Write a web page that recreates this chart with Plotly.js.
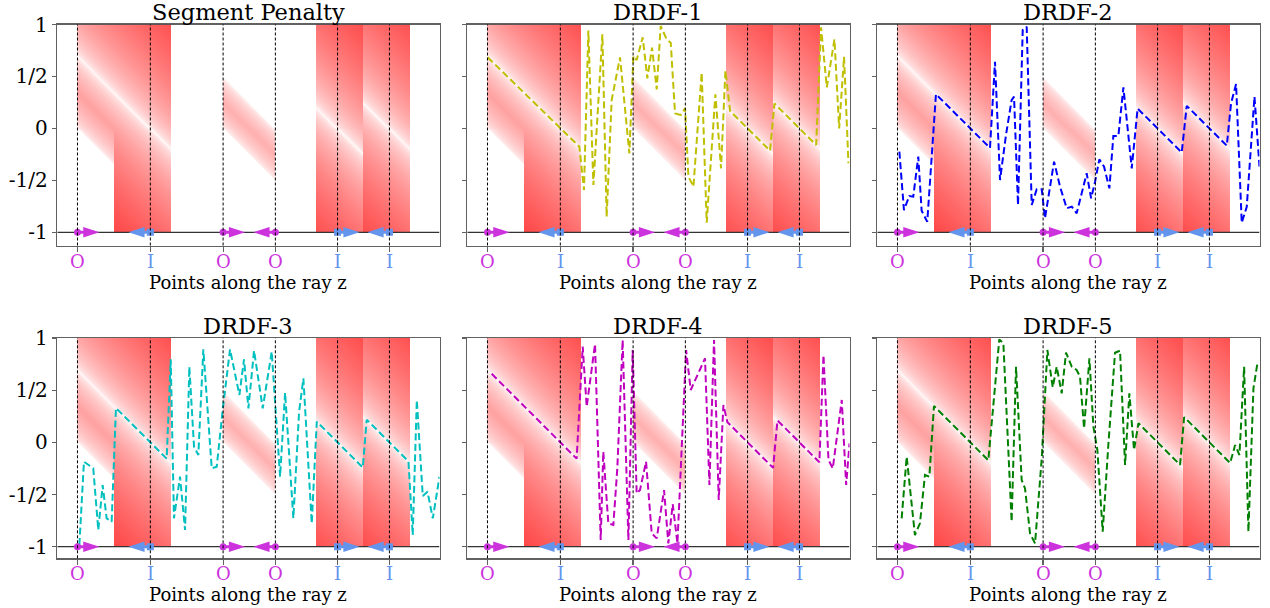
<!DOCTYPE html>
<html><head><meta charset="utf-8">
<script src="https://cdn.plot.ly/plotly-3.0.1.min.js"></script>
<style>body{margin:0;background:#fff}#chart{width:1270px;height:608px}</style>
</head><body><div id="chart"></div><script>
// ---------------- data ----------------
const panelTitles = ['Segment Penalty', 'DRDF-1', 'DRDF-2', 'DRDF-3', 'DRDF-4', 'DRDF-5'];
const xAxisTitle = 'Points along the ray z';
const rayLength = 3.656;                       // extent of the ray shown
const interX = [0.193, 0.890, 1.586, 2.086, 2.681, 3.177];   // intersections
const interType = ['O', 'I', 'O', 'O', 'I', 'I'];
const arrowDir = [1, -1, 1, -1, 1, -1];
const yTickVals = [1, 0.5, 0, -0.5, -1];
const yTickText = ['1', '1/2', '0', '-1/2', '-1'];
// penalty segments along the ray
const segStart = [0.193, 0.5415, 1.586, 2.481, 2.929];
const segEnd   = [0.5415, 1.090, 2.086, 2.929, 3.377];
const segUpper = [1, 1, 3, 4, 5];      // intersection giving upper target
const segLower = [0, -1, 2, -1, -1];   // intersection giving lower target
const segMode  = ['half', 'full', 'band', 'full', 'full'];

const drdf1X = [0.195,1.072,1.116,1.158,1.206,1.292,1.333,1.381,1.461,1.550,1.589,1.620,1.678,1.722,1.767,1.812,1.850,1.907,1.946,1.987,2.041,2.083,2.115,2.163,2.242,2.290,2.373,2.427,2.469,2.514,2.896,2.938,3.337,3.384,3.439,3.512,3.557,3.604,3.646];
const drdf1Y = [0.684,-0.176,-0.593,0.941,-0.545,0.905,-0.850,0.273,0.684,-0.240,0.697,0.658,0.876,0.482,0.777,0.376,0.986,0.857,0.825,0.145,0.129,0.193,-0.464,-0.561,0.536,-0.908,0.328,-0.384,0.556,0.167,-0.215,0.239,-0.160,0.973,0.395,0.857,0.000,0.690,-0.336];

const drdf2X = [0.211,0.255,0.306,0.344,0.392,0.424,0.478,0.520,0.561,1.078,1.126,1.174,1.231,1.285,1.308,1.346,1.391,1.429,1.477,1.525,1.573,1.604,1.691,1.748,1.812,1.860,1.907,2.003,2.045,2.083,2.124,2.169,2.220,2.258,2.306,2.354,2.434,2.490,2.912,2.960,3.343,3.384,3.432,3.486,3.534,3.608,3.656];
const drdf2Y = [-0.224,-0.786,-0.651,-0.657,-0.272,-0.792,-0.898,-0.304,0.329,-0.188,0.642,-0.497,-0.063,0.273,0.305,-0.737,0.947,0.979,-0.737,-0.586,-0.586,-0.865,-0.320,-0.561,-0.769,-0.753,-0.817,-0.432,-0.673,-0.513,-0.298,-0.368,-0.577,-0.073,-0.073,0.395,-0.384,0.191,-0.231,0.217,-0.166,0.241,0.427,-0.908,-0.754,0.305,-0.368];

const drdf3X = [0.211,0.255,0.344,0.392,0.434,0.472,0.520,0.561,1.046,1.085,1.116,1.174,1.222,1.263,1.308,1.349,1.397,1.477,1.525,1.582,1.652,1.742,1.786,1.828,1.882,1.965,2.051,2.131,2.179,2.258,2.313,2.354,2.434,2.482,2.922,2.960,3.359,3.400,3.439,3.496,3.541,3.592,3.656];
const drdf3Y = [-0.984,-0.185,-0.249,-0.840,-0.409,-0.728,-0.760,0.329,-0.156,0.796,-0.728,-0.329,-0.840,0.725,-0.042,-0.121,0.891,-0.249,-0.233,0.310,0.891,0.454,0.796,0.326,0.879,0.326,0.869,-0.329,0.476,-0.728,0.294,0.613,-0.776,0.199,-0.241,0.217,-0.182,-0.888,0.406,-0.514,-0.473,-0.728,-0.329];

const drdf4X = [0.233,1.046,1.104,1.142,1.222,1.276,1.301,1.349,1.397,1.435,1.486,1.541,1.582,1.620,1.652,1.710,1.764,1.812,1.882,1.923,1.965,2.010,2.093,2.137,2.274,2.316,2.360,2.405,2.450,2.488,2.925,2.967,3.368,3.407,3.455,3.496,3.582,3.624,3.656];
const drdf4Y = [0.657,-0.156,0.917,0.342,0.942,-0.936,-0.089,-0.776,-0.792,-0.249,0.981,-0.936,0.885,-0.489,-0.457,-0.185,-0.872,-0.920,-0.457,-0.968,-0.591,-0.968,0.885,0.502,0.805,-0.409,0.981,-0.553,0.358,0.193,-0.244,0.210,-0.191,0.837,-0.169,-0.249,0.406,-0.409,-0.010];

const drdf5X = [0.233,0.281,0.360,0.408,0.456,0.498,0.542,1.062,1.167,1.206,1.285,1.327,1.381,1.413,1.461,1.509,1.573,1.627,1.678,1.716,1.764,1.805,1.860,1.907,1.939,1.978,2.029,2.067,2.105,2.156,2.211,2.274,2.322,2.370,2.411,2.456,2.498,2.896,2.935,3.375,3.423,3.464,3.509,3.550,3.598,3.636];
const drdf5Y = [-0.728,-0.137,-0.888,-0.776,-0.313,-0.329,0.348,-0.172,0.987,0.949,-0.760,0.725,-0.361,-0.441,-0.872,-0.968,-0.153,0.885,0.527,0.725,0.470,0.859,0.725,0.693,0.629,0.134,0.805,0.150,-0.073,-0.856,-0.010,0.859,0.879,-0.217,0.470,-0.073,0.183,-0.215,0.242,-0.198,-0.026,-0.121,0.725,-0.856,0.518,0.757];

const seriesX = [null, drdf1X, drdf2X, drdf3X, drdf4X, drdf5X];
const seriesY = [null, drdf1Y, drdf2Y, drdf3Y, drdf4Y, drdf5Y];
const seriesColor = [null, '#bfbf00', '#0000ff', '#00bfbf', '#bf00bf', '#008000'];

// ---------------- style ----------------
const FONT = 'DejaVu Serif';
const colO = '#cc33dd', colI = '#6495ed';
const W = 1270, H = 608;
const colPx = [[57.3, 439.5], [467.3, 849.5], [877.3, 1259.5]];
const rowPx = [[24.5, 245.5], [338, 558.3]];
const rowYMin = [-1.127, -1.111];
const arrowLen = 0.21;

// penalty field (white -> red)
function penalty(x, y) {
  for (let s = 0; s < segStart.length; s++) {
    if (x >= segStart[s] && x < segEnd[s]) {
      const tu = interX[segUpper[s]] - x;
      if (segMode[s] === 'full') return Math.abs(y - tu);
      const tl = interX[segLower[s]] - x;
      if (y < tl) return null;
      if (segMode[s] === 'band' && y > tu) return null;
      return Math.min(Math.abs(y - tu), Math.abs(y - tl));
    }
  }
  return null;
}
const nx = 382, ny = 210;
const hx = [], hy = [], hz = [];
for (let i = 0; i < nx; i++) hx.push((i + 0.5) * rayLength / nx);
for (let j = 0; j < ny; j++) hy.push(-1 + (j + 0.5) * 2 / ny);
for (let j = 0; j < ny; j++) {
  const row = [];
  for (let i = 0; i < nx; i++) {
    const p = penalty(hx[i], hy[j]);
    row.push(p === null ? null : Math.sqrt(p));
  }
  hz.push(row);
}

const traces = [], shapes = [], annotations = [];
const layout = {
  width: W, height: H, margin: {l: 0, r: 0, t: 0, b: 0},
  paper_bgcolor: '#fff', plot_bgcolor: '#fff', showlegend: false,
  font: {family: FONT, color: '#000'},
  shapes, annotations
};

for (let p = 0; p < 6; p++) {
  const r = Math.floor(p / 3), c = p % 3;
  const sfx = p === 0 ? '' : String(p + 1);
  const xa = 'x' + sfx, ya = 'y' + sfx;
  layout['xaxis' + sfx] = {
    domain: [colPx[c][0] / W, colPx[c][1] / W], anchor: ya,
    range: [0, rayLength], showgrid: false, zeroline: false,
    showline: true, mirror: true, linecolor: 'rgba(0,0,0,0.62)', linewidth: 1.5,
    ticks: 'outside', ticklen: 5, tickwidth: 1.2, tickcolor: 'rgba(0,0,0,0.62)',
    tickmode: 'array', tickvals: interX, showticklabels: false, fixedrange: true
  };
  layout['yaxis' + sfx] = {
    domain: [1 - rowPx[r][1] / H, 1 - rowPx[r][0] / H], anchor: xa,
    range: [rowYMin[r], 1], showgrid: false, zeroline: false,
    showline: true, mirror: true, linecolor: 'rgba(0,0,0,0.62)', linewidth: 1.5,
    ticks: 'outside', ticklen: 4, tickwidth: 1.2, tickcolor: 'rgba(0,0,0,0.62)',
    tickmode: 'array', tickvals: yTickVals, ticktext: yTickText,
    showticklabels: c === 0, tickfont: {family: FONT, size: 20}, fixedrange: true
  };
  traces.push({type: 'heatmap', x: hx, y: hy, z: hz, xaxis: xa, yaxis: ya,
    zmin: 0, zmax: 1.6, colorscale: [[0, '#ffffff'], [1, '#ff0000']],
    showscale: false, hoverinfo: 'skip', zsmooth: false});
  // horizontal baseline at -1
  traces.push({type: 'scatter', mode: 'lines', x: [0, rayLength], y: [-1, -1], xaxis: xa, yaxis: ya,
    line: {color: '#333', width: 1.3}, hoverinfo: 'skip'});
  // dashed lines at intersections
  interX.forEach(v => shapes.push({type: 'line', xref: xa, yref: ya + ' domain', x0: v, x1: v, y0: 0, y1: 1,
    line: {color: '#000', width: 1, dash: '3px,2px'}, layer: 'above'}));
  // prediction
  if (p > 0) {
    traces.push({type: 'scatter', mode: 'lines', x: seriesX[p], y: seriesY[p], xaxis: xa, yaxis: ya,
      line: {color: seriesColor[p], width: 2, dash: '7px,3.5px'}, hoverinfo: 'skip'});
  }
  // arrows + intersection labels
  interX.forEach((v, i) => {
    const col = interType[i] === 'O' ? colO : colI;
    const tip = v + arrowDir[i] * arrowLen;
    traces.push({type: 'scatter', mode: 'lines', x: [v, tip - arrowDir[i] * 0.05], y: [-1, -1], xaxis: xa, yaxis: ya,
      line: {color: col, width: 3}, hoverinfo: 'skip'});
    traces.push({type: 'scatter', mode: 'markers', x: [v], y: [-1], xaxis: xa, yaxis: ya,
      marker: {color: col, size: 7, symbol: interType[i] === 'O' ? 'circle' : 'square'}, hoverinfo: 'skip'});
    traces.push({type: 'scatter', mode: 'markers', x: [tip], y: [-1], xaxis: xa, yaxis: ya,
      marker: {color: col, size: 17, symbol: 'arrow', angle: arrowDir[i] > 0 ? 90 : -90, line: {width: 0}}, hoverinfo: 'skip'});
    annotations.push({xref: xa, yref: 'paper', x: v, y: 1 - (rowPx[r][1] + 15.5) / H,
      yanchor: 'middle', xanchor: 'center', showarrow: false, text: interType[i],
      font: {family: FONT, size: 18, color: col}});
  });
  // titles
  annotations.push({xref: xa + ' domain', yref: 'paper', x: 0.5, y: 1 - (rowPx[r][0] - 12.5) / H,
    yanchor: 'middle', xanchor: 'center', showarrow: false, text: panelTitles[p], font: {family: FONT, size: 22.5, color: '#000'}});
  annotations.push({xref: xa + ' domain', yref: 'paper', x: 0.5, y: 1 - (rowPx[r][1] + 36.5) / H,
    yanchor: 'middle', xanchor: 'center', showarrow: false, text: xAxisTitle, font: {family: FONT, size: 18, color: '#000'}});
}

Plotly.newPlot('chart', traces, layout, {staticPlot: true, displayModeBar: false});
</script></body></html>
